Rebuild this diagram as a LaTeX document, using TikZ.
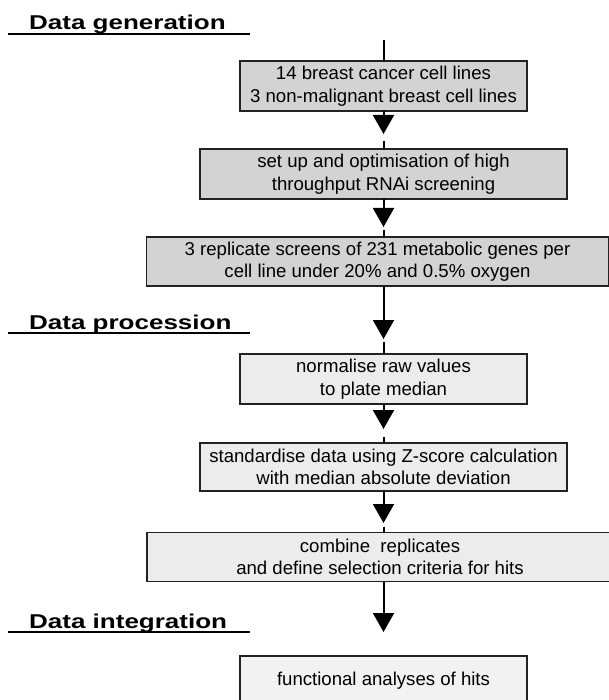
\documentclass[tikz,border=0pt]{standalone}
\usepackage{fontspec}
\setmainfont{Liberation Sans}
\newfontfamily\headfont{Liberation Sans}[FakeStretch=1.3]
\usetikzlibrary{arrows.meta}

\definecolor{boxdark}{HTML}{D3D3D3}
\definecolor{boxlight}{HTML}{ECECEC}
\definecolor{boxpale}{HTML}{F2F2F2}
\definecolor{edge}{HTML}{222222}

\tikzset{
  stagebox/.style={draw=edge, line width=1.2pt, inner sep=0pt, outer sep=0pt,
    align=center, font=\fontsize{18.6}{22.5}\selectfont},
  darkbox/.style={stagebox, fill=boxdark},
  lightbox/.style={stagebox, fill=boxlight},
  conn/.style={line width=2pt, black},
  connarrow/.style={conn, -{Triangle[length=19pt,width=21pt]}},
  heading/.style={anchor=base west, inner sep=0pt,
    font=\headfont\bfseries\fontsize{20}{22}\selectfont},
  rule/.style={line width=1.3pt, black}
}

\begin{document}
\begin{tikzpicture}[x=1pt,y=-1pt]
\useasboundingbox (0,0) rectangle (609,700);

% section headings with their rules
\node[heading] (h1) at (29,30) {Data generation};
\coordinate (r1a) at (8,34);  \coordinate (r1b) at (250,34);
\draw[rule] (r1a) -- (r1b);
\node[heading] (h2) at (29,329) {Data procession};
\coordinate (r2a) at (8,333); \coordinate (r2b) at (250,333);
\draw[rule] (r2a) -- (r2b);
\node[heading] (h3) at (29,628) {Data integration};
\coordinate (r3a) at (8,632); \coordinate (r3b) at (250,632);
\draw[rule] (r3a) -- (r3b);

% workflow boxes
\node[darkbox, minimum width=287pt, minimum height=50pt] (b1) at (383.5,86)
  {14 breast cancer cell lines\\3 non-malignant breast cell lines};
\node[darkbox, minimum width=367pt, minimum height=50pt] (b2) at (383.5,174)
  {set up and optimisation of high\\throughput RNAi screening};
\node[darkbox, minimum width=462pt, minimum height=49pt] (b3) at (377.5,261.5)
  {3 replicate screens of 231 metabolic genes per\\cell line under 20\% and 0.5\% oxygen};
\node[lightbox, minimum width=287pt, minimum height=50pt] (b4) at (383.5,379)
  {normalise raw values\\to plate median};
\node[lightbox, minimum width=367pt, minimum height=48pt] (b5) at (383.5,467)
  {standardise data using Z-score calculation\\with median absolute deviation};
\node[lightbox, minimum width=466pt, minimum height=49pt] (b6) at (380,557)
  {combine\ \ replicates\\and define selection criteria for hits};
\node[stagebox, fill=boxpale, minimum width=287pt, minimum height=50pt] (b7) at (383.5,681)
  {functional analyses of hits};

% arrow tips along the central axis
\coordinate (top) at (383.5,40);
\coordinate (t1) at (383.5,134);
\coordinate (t2) at (383.5,227);
\coordinate (t3) at (383.5,339);
\coordinate (t4) at (383.5,429);
\coordinate (t5) at (383.5,523);
\coordinate (t6) at (383.5,632);

% connectors
\draw[conn] (top) -- (b1.north);
\draw[connarrow] (b1.south) -- (t1);
\draw[conn] ([yshift=-7pt]t1) -- (b2.north);
\draw[connarrow] (b2.south) -- (t2);
\draw[conn] ([yshift=-3pt]t2) -- (b3.north -| t2);
\draw[connarrow] (b3.south -| t3) -- (t3);
\draw[conn] ([yshift=-3pt]t3) -- (b4.north);
\draw[connarrow] (b4.south) -- (t4);
\draw[conn] ([yshift=-8pt]t4) -- (b5.north);
\draw[connarrow] (b5.south) -- (t5);
\draw[conn] ([yshift=-4pt]t5) -- (b6.north -| t5);
\draw[connarrow] (b6.south -| t6) -- (t6);
\end{tikzpicture}
\end{document}
